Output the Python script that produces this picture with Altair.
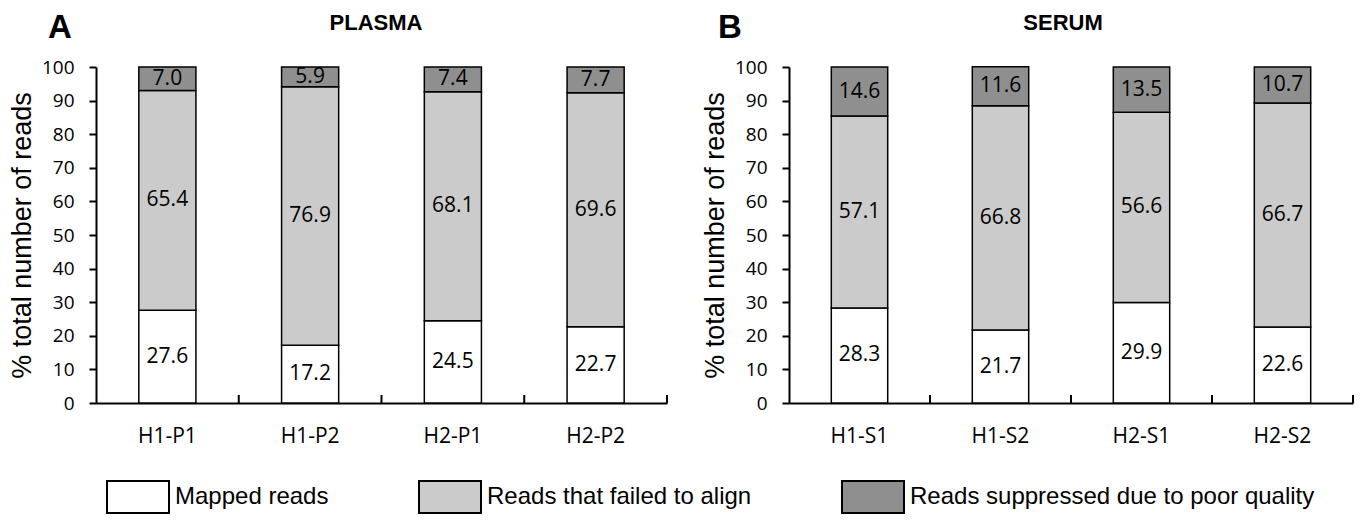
import altair as alt
import pandas as pd

# ---- data ----
categories = ["Mapped reads", "Reads that failed to align", "Reads suppressed due to poor quality"]
colors = ["#ffffff", "#cbcbcb", "#8f8f8f"]

plasma_samples = ["H1-P1", "H1-P2", "H2-P1", "H2-P2"]
plasma_mapped = [27.6, 17.2, 24.5, 22.7]
plasma_failed = [65.4, 76.9, 68.1, 69.6]
plasma_suppressed = [7.0, 5.9, 7.4, 7.7]

serum_samples = ["H1-S1", "H1-S2", "H2-S1", "H2-S2"]
serum_mapped = [28.3, 21.7, 29.9, 22.6]
serum_failed = [57.1, 66.8, 56.6, 66.7]
serum_suppressed = [14.6, 11.6, 13.5, 10.7]

y_ticks = [0, 10, 20, 30, 40, 50, 60, 70, 80, 90, 100]

H = 336
NUM_FONT = "Open Sans"
TXT_FONT = "Liberation Sans"


def make_df(samples, mapped, failed, suppressed):
    rows = []
    for i, s in enumerate(samples):
        base = 0.0
        for k, (cat, v) in enumerate(zip(categories, [mapped[i], failed[i], suppressed[i]])):
            rows.append({"sample": s, "category": cat, "value": v, "order": k, "mid": base + v / 2})
            base += v
    return pd.DataFrame(rows)


legend = alt.Legend(title=None, orient="none", legendX=25, legendY=413, direction="horizontal",
                    symbolType="M-1.9375,-1L1.9375,-1L1.9375,1L-1.9375,1Z", symbolSize=1024,
                    symbolStrokeColor="black", symbolStrokeWidth=2, symbolOpacity=1,
                    labelFont=TXT_FONT, labelFontSize=24, labelColor="black", labelOffset=20,
                    labelLimit=600, columnPadding=86, padding=0)

xaxis = alt.Axis(title=None, labelAngle=0, ticks=False, tickSize=0, labelPadding=22,
                 domainWidth=2, domainColor="black", labelFont=NUM_FONT,
                 labelFontSize=21, labelColor="black", labelBaseline="top")
yaxis = alt.Axis(title="% total number of reads", values=y_ticks, tickCount=11,
                 labelOverlap=False, grid=False,
                 tickSize=7, tickWidth=2, tickColor="black", domainWidth=2,
                 domainColor="black", labelFont=NUM_FONT, labelFontSize=19,
                 labelColor="black", labelPadding=15, titleFont=TXT_FONT,
                 titleFontSize=27, titleFontWeight="normal", titleColor="black",
                 titlePadding=5)


def panel(samples, mapped, failed, suppressed, letter, name, width, letter_x, name_x):
    df = make_df(samples, mapped, failed, suppressed)
    base = alt.Chart(df)
    xscale = alt.Scale(domain=samples, paddingInner=0, paddingOuter=0)
    yscale = alt.Scale(domain=[0, 100], nice=False)
    bars = base.mark_bar(width=alt.RelativeBandSize(0.4), stroke="black", strokeWidth=1.5, opacity=1).encode(
        x=alt.X("sample:N", sort=samples, scale=xscale, axis=xaxis),
        y=alt.Y("value:Q", stack="zero", scale=yscale, axis=yaxis),
        color=alt.Color("category:N", scale=alt.Scale(domain=categories, range=colors), legend=legend),
        order=alt.Order("order:Q"),
    )
    labels = base.mark_text(font=NUM_FONT, fontSize=21, color="black").encode(
        x=alt.X("sample:N", sort=samples, scale=xscale, axis=xaxis),
        y=alt.Y("mid:Q", scale=yscale, axis=yaxis),
        text=alt.Text("value:Q", format=".1f"),
    )
    ticks = alt.Chart(pd.DataFrame({"sample": samples})).mark_rule(color="black", strokeWidth=2).encode(
        x=alt.X("sample:N", sort=samples, scale=xscale, bandPosition=1, axis=xaxis),
        y=alt.value(H), y2=alt.value(H - 8),
    )
    # invisible spacer that fixes the top edge of the drawing above the panel letter
    top_edge = alt.Chart(pd.DataFrame({"t": [letter]})).mark_rule(opacity=0, strokeWidth=1).encode(
        x=alt.value(0), x2=alt.value(1), y=alt.value(-59)
    )
    letter_t = alt.Chart(pd.DataFrame({"t": [letter]})).mark_text(
        font=TXT_FONT, fontWeight="bold", fontSize=33, align="center", baseline="top", color="black"
    ).encode(text="t:N", x=alt.value(letter_x), y=alt.value(-55))
    name_t = alt.Chart(pd.DataFrame({"t": [name]})).mark_text(
        font=TXT_FONT, fontWeight="bold", fontSize=22, align="center", baseline="alphabetic", color="black"
    ).encode(text="t:N", x=alt.value(name_x), y=alt.value(-37))
    return alt.layer(bars, labels, ticks, top_edge, letter_t, name_t).properties(width=width, height=H)


a = panel(plasma_samples, plasma_mapped, plasma_failed, plasma_suppressed, "A", "PLASMA", 571, -36, 280)
b = panel(serum_samples, serum_mapped, serum_failed, serum_suppressed, "B", "SERUM", 564, -59, 274)

chart = alt.hconcat(a, b, spacing=33).resolve_scale(
    x="independent", y="independent", color="shared"
).resolve_legend(color="shared").configure(
    padding=0, background="white"
).configure_view(stroke=None)

chart.save("out.html", embed_options={"renderer": "svg", "actions": False})
